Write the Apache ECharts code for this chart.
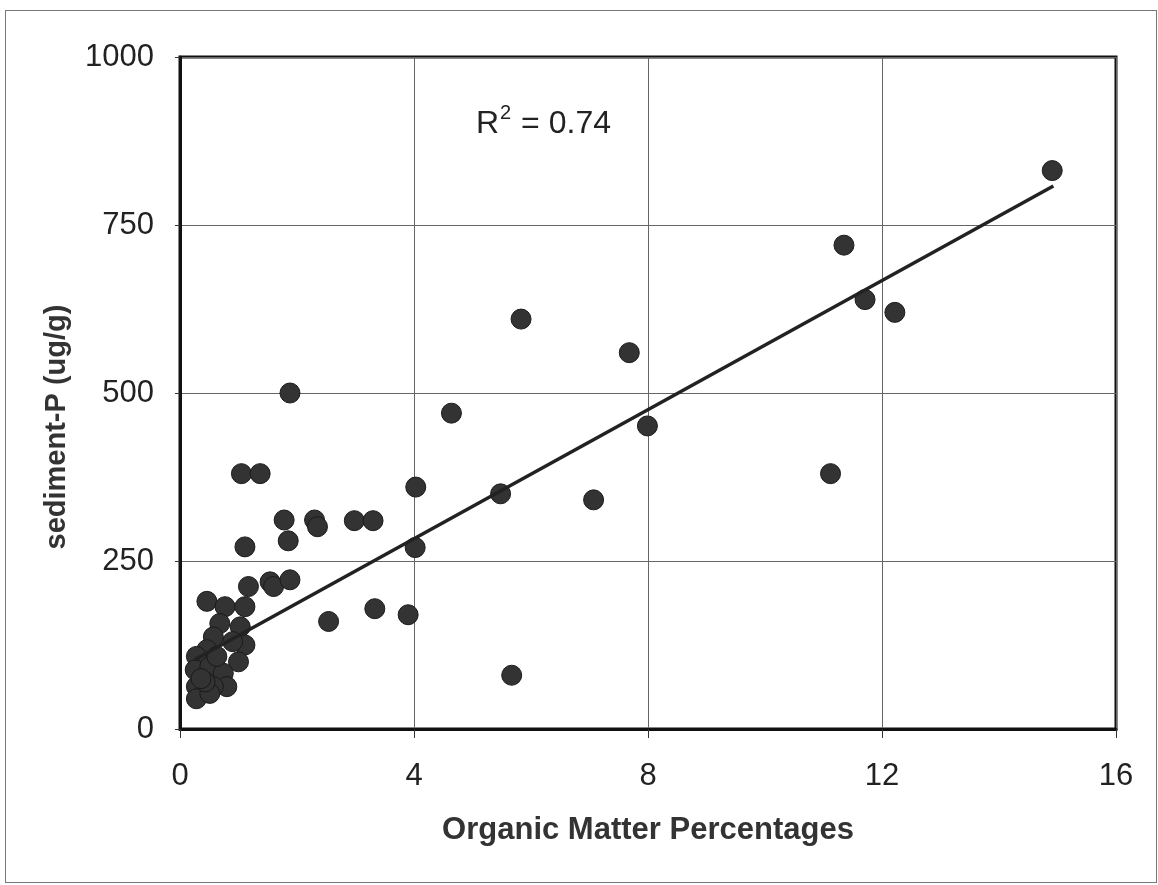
<!DOCTYPE html>
<html>
<head>
<meta charset="utf-8">
<script src="https://cdn.jsdelivr.net/npm/echarts@6/dist/echarts.min.js"></script>
<style>
html,body{margin:0;padding:0;background:#fff;}
#frame{position:absolute;left:5px;top:10px;width:1152px;height:873px;border:1px solid #777;box-sizing:border-box;}
#chart{position:absolute;left:0;top:0;width:1158px;height:885px;}
</style>
</head>
<body>
<div id="frame"></div>
<div id="chart"></div>
<script>
const xTicks = [0, 4, 8, 12, 16];
const yTicks = [0, 250, 500, 750, 1000];
const xTitle = 'Organic Matter Percentages';
const yTitle = 'sediment-P (ug/g)';
const omPercent = [
  1.88, 1.05, 1.37, 1.78, 2.30, 2.35, 2.98, 3.30, 1.85, 1.11, 1.17, 1.54, 1.60, 1.88,
  0.46, 2.54, 3.33, 3.90, 4.02, 4.03, 4.64, 5.48, 5.67, 5.83, 7.07, 7.68, 7.99,
  11.12, 11.35, 11.71, 12.22, 14.91,
  0.77, 1.11, 0.68, 1.03, 0.57, 1.11, 1.00, 0.46, 0.28, 0.26, 0.51, 0.74, 0.80,
  0.57, 0.28, 0.28, 0.51, 0.43, 0.63, 0.90, 0.36
];
const sedimentP = [
  500, 380, 380, 311, 311, 301, 310, 310, 280, 271, 212, 219, 212, 222,
  190, 160, 179, 170, 270, 360, 470, 350, 80, 610, 341, 560, 451,
  380, 720, 639, 620, 831,
  182, 182, 157, 152, 137, 125, 100, 118, 108, 88, 93, 83, 63,
  63, 63, 45, 53, 70, 108, 130, 75
];
const trendX = [0.25, 14.93];
const trendY = [103, 808];
const r2Label = '0.74';

const chart = echarts.init(document.getElementById('chart'), null, {renderer: 'canvas'});
const font = '"Liberation Sans", Arial, sans-serif';
chart.setOption({
  backgroundColor: 'transparent',
  animation: false,
  grid: {left: 180, top: 57, right: 42, bottom: 156, containLabel: false,
         show: true, borderColor: '#111', borderWidth: 3},
  xAxis: {
    type: 'value', min: xTicks[0], max: xTicks[xTicks.length - 1], interval: 4,
    name: xTitle, nameLocation: 'middle', nameGap: 86,
    nameTextStyle: {fontFamily: font, fontSize: 31, fontWeight: 'bold', color: '#333'},
    axisLine: {show: true, lineStyle: {color: '#111', width: 3}},
    axisTick: {show: true, length: 9, lineStyle: {color: '#333', width: 1}},
    axisLabel: {fontFamily: font, fontSize: 31, color: '#222', margin: 32},
    splitLine: {show: true, lineStyle: {color: '#666', width: 1}}
  },
  yAxis: {
    type: 'value', min: yTicks[0], max: yTicks[yTicks.length - 1], interval: 250,
    axisLine: {show: true, lineStyle: {color: '#111', width: 3}},
    axisTick: {show: true, length: 5, lineStyle: {color: '#333', width: 1}},
    axisLabel: {fontFamily: font, fontSize: 31, color: '#222', margin: 26,
                formatter: v => String(v)},
    splitLine: {show: true, lineStyle: {color: '#666', width: 1}}
  },
  graphic: [{
    type: 'text', left: 476, top: 103, silent: true,
    style: {
      text: '{a|R}{s|2}{a| = ' + r2Label + '}',
      rich: {
        a: {fontFamily: font, fontSize: 32, fill: '#222', verticalAlign: 'bottom'},
        s: {fontFamily: font, fontSize: 20, fill: '#222', verticalAlign: 'top', padding: [0, 1, 17, 1]}
      }
    }
  }, {
    type: 'text', x: 57, y: 427, rotation: Math.PI / 2, silent: true,
    style: {
      text: yTitle, fontFamily: font, fontSize: 29, fontWeight: 'bold', fill: '#333',
      align: 'center', verticalAlign: 'middle'
    }
  }],
  series: [{
    type: 'scatter',
    data: omPercent.map((x, i) => [x, sedimentP[i]]),
    symbolSize: 20,
    itemStyle: {color: '#333', borderColor: '#1a1a1a', borderWidth: 1, opacity: 1},
    z: 2
  }, {
    type: 'line',
    data: trendX.map((x, i) => [x, trendY[i]]),
    symbol: 'none',
    lineStyle: {color: '#222', width: 3.5},
    z: 3
  }]
});
</script>
</body>
</html>
